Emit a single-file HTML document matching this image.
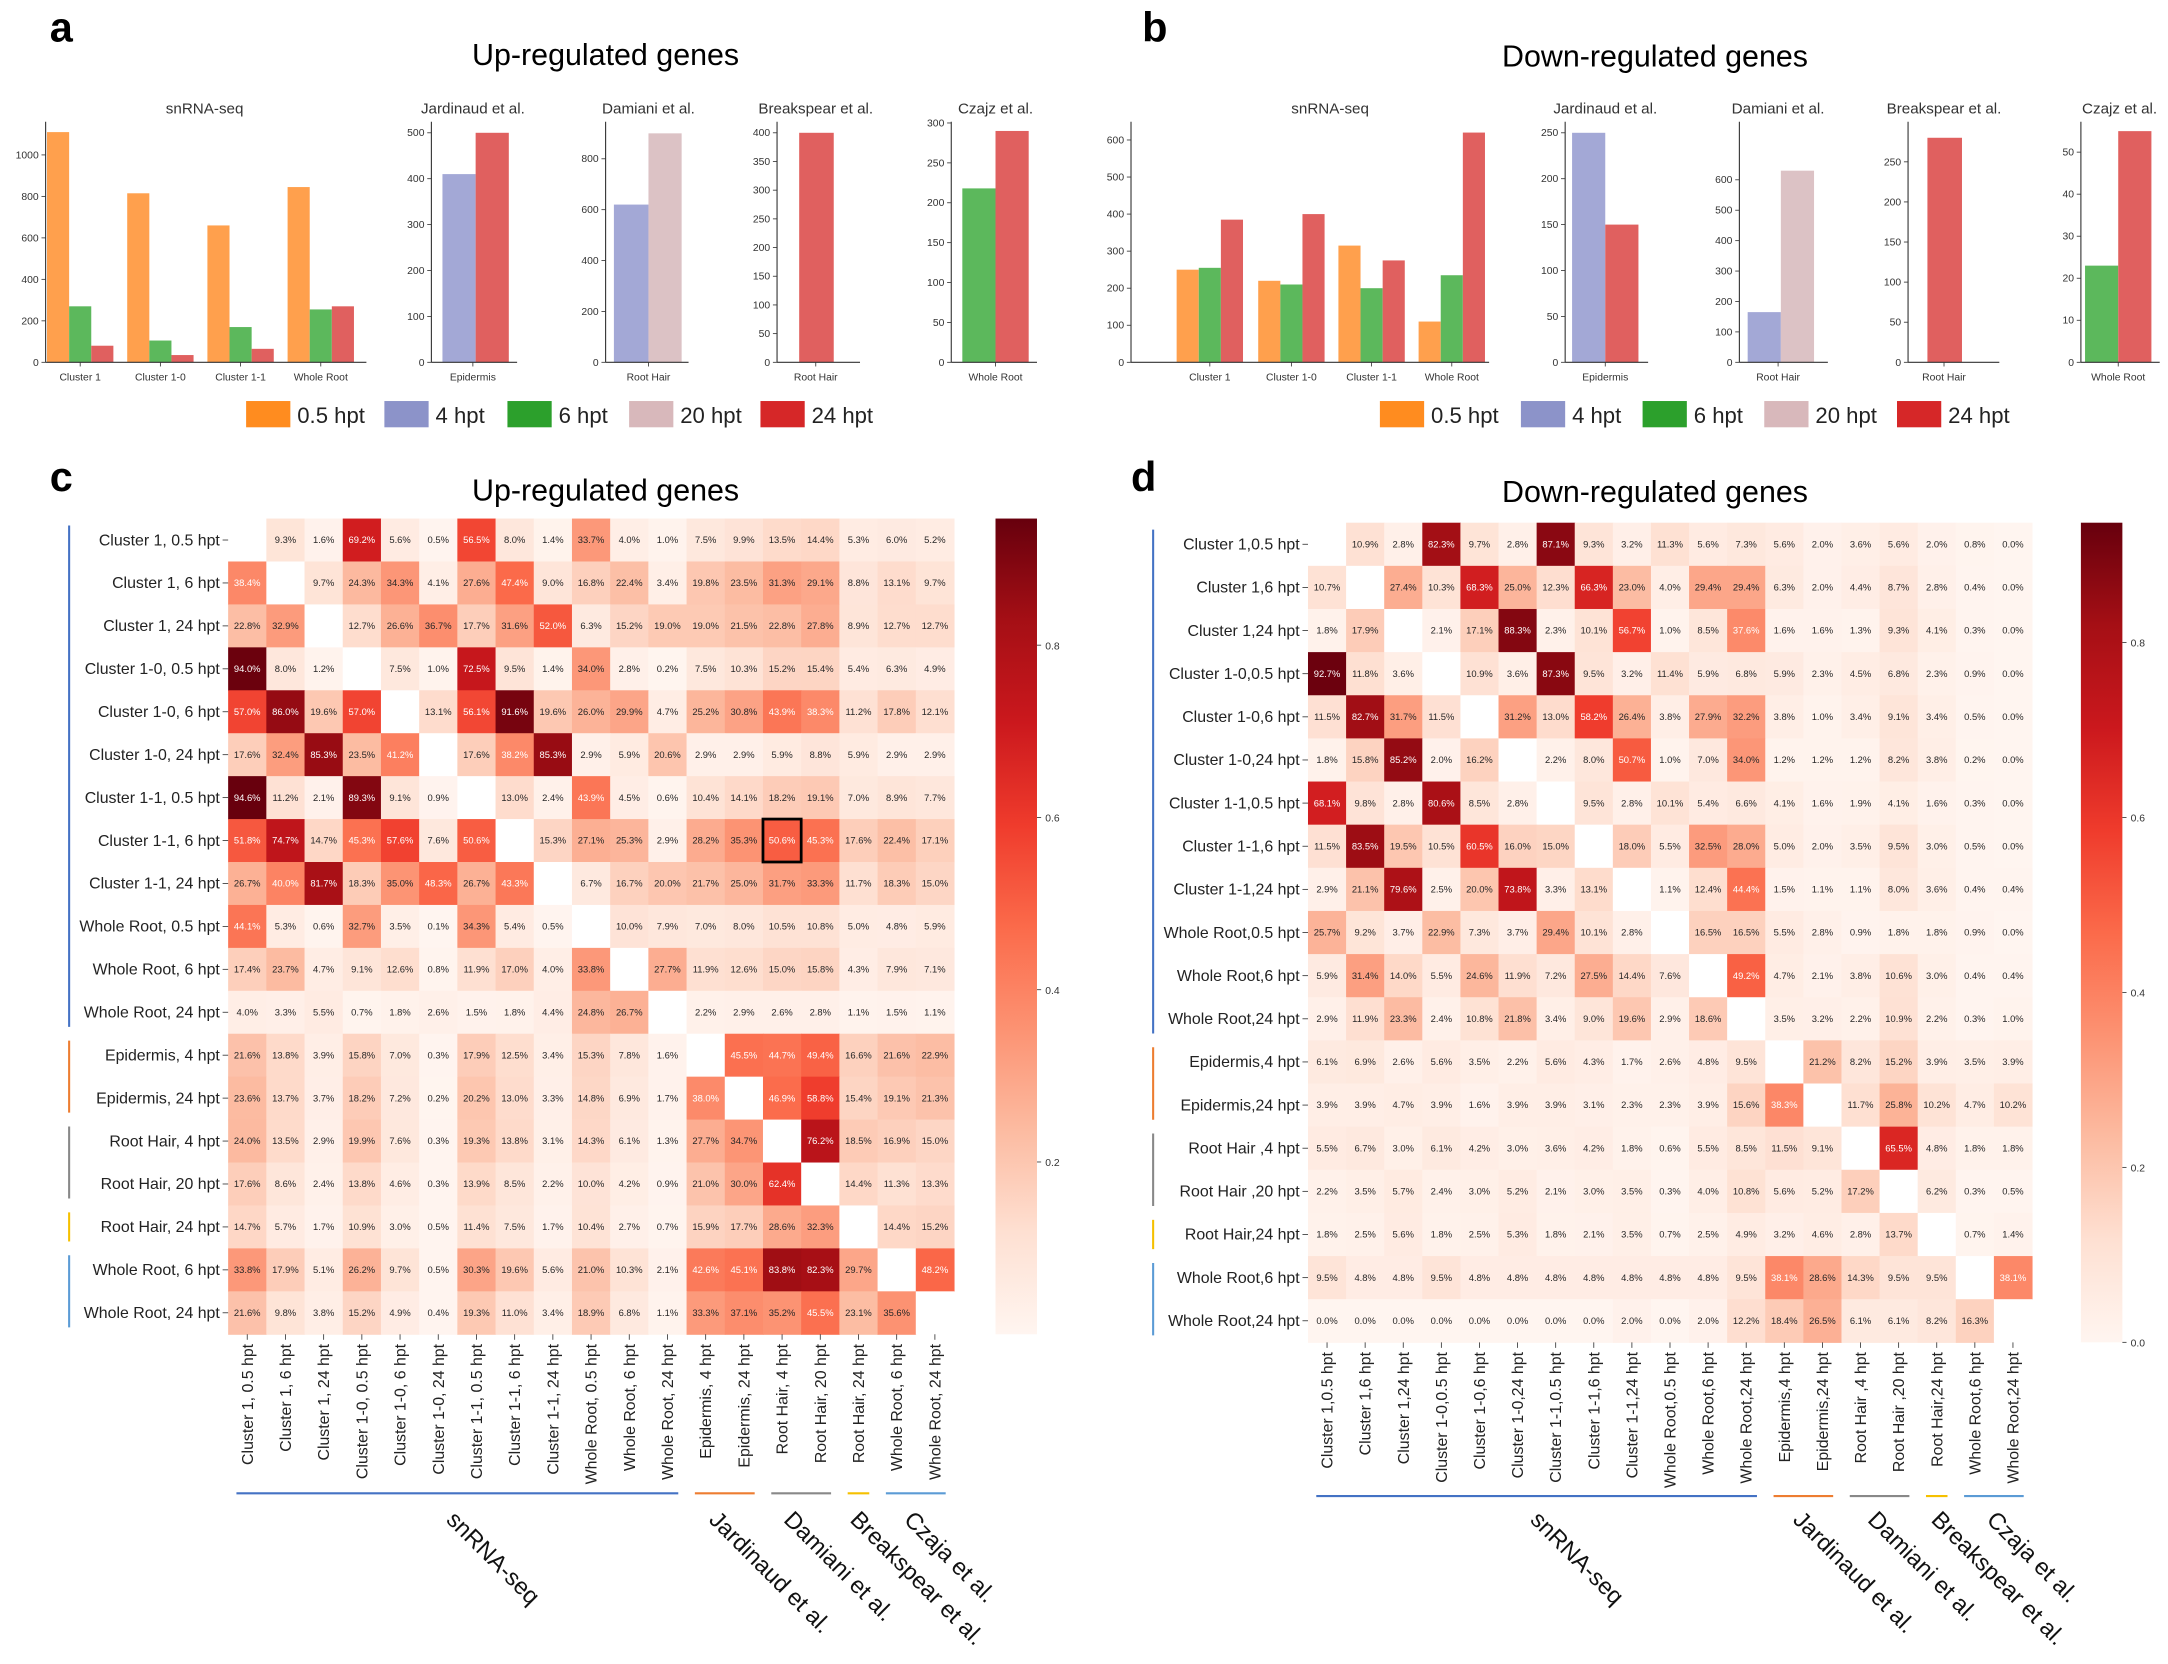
<!DOCTYPE html>
<html><head><meta charset="utf-8">
<style>
html,body{margin:0;padding:0;background:#fff;}
svg{display:block;font-family:"Liberation Sans",Arial,sans-serif;}
</style></head>
<body>
<svg id="s" xmlns="http://www.w3.org/2000/svg" width="2168" height="1664" viewBox="0 0 1568 1203.4">
<defs>
<linearGradient id="cb" x1="0" y1="1" x2="0" y2="0">
<stop offset="0" stop-color="#fff5f0"/><stop offset="0.125" stop-color="#fee0d2"/><stop offset="0.25" stop-color="#fcbba1"/><stop offset="0.375" stop-color="#fc9272"/><stop offset="0.5" stop-color="#fb6a4a"/><stop offset="0.625" stop-color="#ef3b2c"/><stop offset="0.75" stop-color="#cb181d"/><stop offset="0.875" stop-color="#a50f15"/><stop offset="1" stop-color="#67000d"/>
</linearGradient>
</defs>
<text x="36" y="30" font-size="30" font-weight="bold">a</text>
<text x="826" y="30" font-size="30" font-weight="bold">b</text>
<text x="36" y="355" font-size="30" font-weight="bold">c</text>
<text x="818" y="355" font-size="30" font-weight="bold">d</text>
<text x="438" y="47" font-size="22" text-anchor="middle">Up-regulated genes</text>
<text x="1197" y="48" font-size="22" text-anchor="middle">Down-regulated genes</text>
<text x="438" y="362" font-size="22" text-anchor="middle">Up-regulated genes</text>
<text x="1197" y="363" font-size="22" text-anchor="middle">Down-regulated genes</text>
<g id="root"></g>
</svg>
<pre id="hc" style="display:none">
- 9.3% 1.6% 69.2% 5.6% 0.5% 56.5% 8.0% 1.4% 33.7% 4.0% 1.0% 7.5% 9.9% 13.5% 14.4% 5.3% 6.0% 5.2%
38.4% - 9.7% 24.3% 34.3% 4.1% 27.6% 47.4% 9.0% 16.8% 22.4% 3.4% 19.8% 23.5% 31.3% 29.1% 8.8% 13.1% 9.7%
22.8% 32.9% - 12.7% 26.6% 36.7% 17.7% 31.6% 52.0% 6.3% 15.2% 19.0% 19.0% 21.5% 22.8% 27.8% 8.9% 12.7% 12.7%
94.0% 8.0% 1.2% - 7.5% 1.0% 72.5% 9.5% 1.4% 34.0% 2.8% 0.2% 7.5% 10.3% 15.2% 15.4% 5.4% 6.3% 4.9%
57.0% 86.0% 19.6% 57.0% - 13.1% 56.1% 91.6% 19.6% 26.0% 29.9% 4.7% 25.2% 30.8% 43.9% 38.3% 11.2% 17.8% 12.1%
17.6% 32.4% 85.3% 23.5% 41.2% - 17.6% 38.2% 85.3% 2.9% 5.9% 20.6% 2.9% 2.9% 5.9% 8.8% 5.9% 2.9% 2.9%
94.6% 11.2% 2.1% 89.3% 9.1% 0.9% - 13.0% 2.4% 43.9% 4.5% 0.6% 10.4% 14.1% 18.2% 19.1% 7.0% 8.9% 7.7%
51.8% 74.7% 14.7% 45.3% 57.6% 7.6% 50.6% - 15.3% 27.1% 25.3% 2.9% 28.2% 35.3% 50.6% 45.3% 17.6% 22.4% 17.1%
26.7% 40.0% 81.7% 18.3% 35.0% 48.3% 26.7% 43.3% - 6.7% 16.7% 20.0% 21.7% 25.0% 31.7% 33.3% 11.7% 18.3% 15.0%
44.1% 5.3% 0.6% 32.7% 3.5% 0.1% 34.3% 5.4% 0.5% - 10.0% 7.9% 7.0% 8.0% 10.5% 10.8% 5.0% 4.8% 5.9%
17.4% 23.7% 4.7% 9.1% 12.6% 0.8% 11.9% 17.0% 4.0% 33.8% - 27.7% 11.9% 12.6% 15.0% 15.8% 4.3% 7.9% 7.1%
4.0% 3.3% 5.5% 0.7% 1.8% 2.6% 1.5% 1.8% 4.4% 24.8% 26.7% - 2.2% 2.9% 2.6% 2.8% 1.1% 1.5% 1.1%
21.6% 13.8% 3.9% 15.8% 7.0% 0.3% 17.9% 12.5% 3.4% 15.3% 7.8% 1.6% - 45.5% 44.7% 49.4% 16.6% 21.6% 22.9%
23.6% 13.7% 3.7% 18.2% 7.2% 0.2% 20.2% 13.0% 3.3% 14.8% 6.9% 1.7% 38.0% - 46.9% 58.8% 15.4% 19.1% 21.3%
24.0% 13.5% 2.9% 19.9% 7.6% 0.3% 19.3% 13.8% 3.1% 14.3% 6.1% 1.3% 27.7% 34.7% - 76.2% 18.5% 16.9% 15.0%
17.6% 8.6% 2.4% 13.8% 4.6% 0.3% 13.9% 8.5% 2.2% 10.0% 4.2% 0.9% 21.0% 30.0% 62.4% - 14.4% 11.3% 13.3%
14.7% 5.7% 1.7% 10.9% 3.0% 0.5% 11.4% 7.5% 1.7% 10.4% 2.7% 0.7% 15.9% 17.7% 28.6% 32.3% - 14.4% 15.2%
33.8% 17.9% 5.1% 26.2% 9.7% 0.5% 30.3% 19.6% 5.6% 21.0% 10.3% 2.1% 42.6% 45.1% 83.8% 82.3% 29.7% - 48.2%
21.6% 9.8% 3.8% 15.2% 4.9% 0.4% 19.3% 11.0% 3.4% 18.9% 6.8% 1.1% 33.3% 37.1% 35.2% 45.5% 23.1% 35.6% -
</pre>
<pre id="hd" style="display:none">
- 10.9% 2.8% 82.3% 9.7% 2.8% 87.1% 9.3% 3.2% 11.3% 5.6% 7.3% 5.6% 2.0% 3.6% 5.6% 2.0% 0.8% 0.0%
10.7% - 27.4% 10.3% 68.3% 25.0% 12.3% 66.3% 23.0% 4.0% 29.4% 29.4% 6.3% 2.0% 4.4% 8.7% 2.8% 0.4% 0.0%
1.8% 17.9% - 2.1% 17.1% 88.3% 2.3% 10.1% 56.7% 1.0% 8.5% 37.6% 1.6% 1.6% 1.3% 9.3% 4.1% 0.3% 0.0%
92.7% 11.8% 3.6% - 10.9% 3.6% 87.3% 9.5% 3.2% 11.4% 5.9% 6.8% 5.9% 2.3% 4.5% 6.8% 2.3% 0.9% 0.0%
11.5% 82.7% 31.7% 11.5% - 31.2% 13.0% 58.2% 26.4% 3.8% 27.9% 32.2% 3.8% 1.0% 3.4% 9.1% 3.4% 0.5% 0.0%
1.8% 15.8% 85.2% 2.0% 16.2% - 2.2% 8.0% 50.7% 1.0% 7.0% 34.0% 1.2% 1.2% 1.2% 8.2% 3.8% 0.2% 0.0%
68.1% 9.8% 2.8% 80.6% 8.5% 2.8% - 9.5% 2.8% 10.1% 5.4% 6.6% 4.1% 1.6% 1.9% 4.1% 1.6% 0.3% 0.0%
11.5% 83.5% 19.5% 10.5% 60.5% 16.0% 15.0% - 18.0% 5.5% 32.5% 28.0% 5.0% 2.0% 3.5% 9.5% 3.0% 0.5% 0.0%
2.9% 21.1% 79.6% 2.5% 20.0% 73.8% 3.3% 13.1% - 1.1% 12.4% 44.4% 1.5% 1.1% 1.1% 8.0% 3.6% 0.4% 0.4%
25.7% 9.2% 3.7% 22.9% 7.3% 3.7% 29.4% 10.1% 2.8% - 16.5% 16.5% 5.5% 2.8% 0.9% 1.8% 1.8% 0.9% 0.0%
5.9% 31.4% 14.0% 5.5% 24.6% 11.9% 7.2% 27.5% 14.4% 7.6% - 49.2% 4.7% 2.1% 3.8% 10.6% 3.0% 0.4% 0.4%
2.9% 11.9% 23.3% 2.4% 10.8% 21.8% 3.4% 9.0% 19.6% 2.9% 18.6% - 3.5% 3.2% 2.2% 10.9% 2.2% 0.3% 1.0%
6.1% 6.9% 2.6% 5.6% 3.5% 2.2% 5.6% 4.3% 1.7% 2.6% 4.8% 9.5% - 21.2% 8.2% 15.2% 3.9% 3.5% 3.9%
3.9% 3.9% 4.7% 3.9% 1.6% 3.9% 3.9% 3.1% 2.3% 2.3% 3.9% 15.6% 38.3% - 11.7% 25.8% 10.2% 4.7% 10.2%
5.5% 6.7% 3.0% 6.1% 4.2% 3.0% 3.6% 4.2% 1.8% 0.6% 5.5% 8.5% 11.5% 9.1% - 65.5% 4.8% 1.8% 1.8%
2.2% 3.5% 5.7% 2.4% 3.0% 5.2% 2.1% 3.0% 3.5% 0.3% 4.0% 10.8% 5.6% 5.2% 17.2% - 6.2% 0.3% 0.5%
1.8% 2.5% 5.6% 1.8% 2.5% 5.3% 1.8% 2.1% 3.5% 0.7% 2.5% 4.9% 3.2% 4.6% 2.8% 13.7% - 0.7% 1.4%
9.5% 4.8% 4.8% 9.5% 4.8% 4.8% 4.8% 4.8% 4.8% 4.8% 4.8% 9.5% 38.1% 28.6% 14.3% 9.5% 9.5% - 38.1%
0.0% 0.0% 0.0% 0.0% 0.0% 0.0% 0.0% 0.0% 2.0% 0.0% 2.0% 12.2% 18.4% 26.5% 6.1% 6.1% 8.2% 16.3% -
</pre>
<script>
var NS="http://www.w3.org/2000/svg",R=document.getElementById("root");
function el(t,a,txt,p){var e=document.createElementNS(NS,t);for(var k in a)e.setAttribute(k,a[k]);if(txt!=null)e.textContent=txt;(p||R).appendChild(e);return e;}
var stops=[[255,245,240],[254,224,210],[252,187,161],[252,146,114],[251,106,74],[239,59,44],[203,24,29],[165,15,21],[103,0,13]];
function cmap(t){t=Math.max(0,Math.min(1,t))*8;var i=Math.min(7,Math.floor(t)),f=t-i,a=stops[i],b=stops[i+1];return "rgb("+[0,1,2].map(function(j){return Math.round(a[j]+(b[j]-a[j])*f)}).join(",")+")";}
var OR="#ffa04d",BL="#a3a8d6",GR="#5cb85c",PK="#dcc2c5",RD="#e0605f";
function chart(x0,x1,k,ticks,bars,title,tx,xl){
 var y0=262;
 el("text",{x:tx,y:82,"font-size":11,"text-anchor":"middle",fill:"#333"},title);
 bars.forEach(function(b){el("rect",{x:b[0],y:y0-b[2]*k,width:b[1]-b[0],height:b[2]*k,fill:b[3]});});
 el("line",{x1:x0,y1:88,x2:x0,y2:y0,stroke:"#333","stroke-width":0.8});
 el("line",{x1:x0,y1:y0,x2:x1,y2:y0,stroke:"#333","stroke-width":0.8});
 ticks.forEach(function(t){var y=y0-t*k;el("line",{x1:x0-3,y1:y,x2:x0,y2:y,stroke:"#333","stroke-width":0.6});el("text",{x:x0-5,y:y+2.5,"font-size":7.5,"text-anchor":"end",fill:"#333"},String(t));});
 xl.forEach(function(l){el("line",{x1:l[0],y1:y0,x2:l[0],y2:y0+3,stroke:"#333","stroke-width":0.6});el("text",{x:l[0],y:y0+13,"font-size":7.5,"text-anchor":"middle",fill:"#333"},l[1]);});
}
function grp(c,w,vals){var n=vals.length,s=c-n*w/2;return vals.map(function(v,i){return [s+i*w,s+(i+1)*w,v[0],v[1]];});}
var b=[];[[58,1110,270,80],[116,815,105,35],[174,660,170,65],[232,845,255,270]].forEach(function(g){b=b.concat(grp(g[0],16,[[g[1],OR],[g[2],GR],[g[3],RD]]));});
chart(33,265,0.15,[0,200,400,600,800,1000],b,"snRNA-seq",148,[[58,"Cluster 1"],[116,"Cluster 1-0"],[174,"Cluster 1-1"],[232,"Whole Root"]]);
chart(312,374,0.332,[0,100,200,300,400,500],[[320,344,410,BL],[344,368,500,RD]],"Jardinaud et al.",342,[[342,"Epidermis"]]);
chart(438,498,0.184,[0,200,400,600,800],[[444,469,620,BL],[469,493,900,PK]],"Damiani et al.",469,[[469,"Root Hair"]]);
chart(562,622,0.415,[0,50,100,150,200,250,300,350,400],[[578,603,400,RD]],"Breakspear et al.",590,[[590,"Root Hair"]]);
chart(688,750,0.577,[0,50,100,150,200,250,300],[[696,720,218,GR],[720,744,290,RD]],"Czajz et al.",720,[[720,"Whole Root"]]);
b=[];[[875,250,255,385],[934,220,210,400],[992,315,200,275],[1050,110,235,620]].forEach(function(g){b=b.concat(grp(g[0],16,[[g[1],OR],[g[2],GR],[g[3],RD]]));});
chart(818,1077,0.268,[0,100,200,300,400,500,600],b,"snRNA-seq",962,[[875,"Cluster 1"],[934,"Cluster 1-0"],[992,"Cluster 1-1"],[1050,"Whole Root"]]);
chart(1132,1192,0.664,[0,50,100,150,200,250],[[1137,1161,250,BL],[1161,1185,150,RD]],"Jardinaud et al.",1161,[[1161,"Epidermis"]]);
chart(1258,1322,0.22,[0,100,200,300,400,500,600],[[1264,1288,165,BL],[1288,1312,630,PK]],"Damiani et al.",1286,[[1286,"Root Hair"]]);
chart(1380,1446,0.58,[0,50,100,150,200,250],[[1394,1419,280,RD]],"Breakspear et al.",1406,[[1406,"Root Hair"]]);
chart(1505,1562,3.04,[0,10,20,30,40,50],[[1508,1532,23,GR],[1532,1556,55,RD]],"Czajz et al.",1533,[[1532,"Whole Root"]]);
var LC=["#ff8c1f","#8c93c9","#2ca02c","#d8b8bb","#d62728"],LT=["0.5 hpt","4 hpt","6 hpt","20 hpt","24 hpt"];
[[178,278,367,455,550],[998,1100,1188,1276,1372]].forEach(function(xs){xs.forEach(function(x,i){el("rect",{x:x,y:290,width:32,height:19,fill:LC[i]});el("text",{x:x+37,y:306,"font-size":16,fill:"#222"},LT[i]);});});
function hm(id,x0,y0,cw,ch,vmax,rl,cbx,cbt,grpx,grpy,gl){
 var rows=document.getElementById(id).textContent.trim().split("\n").map(function(r){return r.trim().split(/\s+/);});
 var n=rows.length;
 rows.forEach(function(r,i){r.forEach(function(v,j){var x=x0+j*cw,y=y0+i*ch;
  if(v==="-"){el("rect",{x:x,y:y,width:cw+0.3,height:ch+0.3,fill:"#fff"});return;}
  var t=parseFloat(v)/100/vmax;
  el("rect",{x:x,y:y,width:cw+0.4,height:ch+0.4,fill:cmap(t)});
  el("text",{x:x+cw/2,y:y+ch/2+2.3,"font-size":6.8,"text-anchor":"middle",fill:t>0.4?"#fff":"#262626"},v);});});
 rl.forEach(function(l,i){var y=y0+(i+0.5)*ch;
  el("line",{x1:x0-4,y1:y,x2:x0,y2:y,stroke:"#333","stroke-width":0.6});
  el("text",{x:x0-6,y:y+3.8,"font-size":11.5,"text-anchor":"end",fill:"#222"},l);
  var x=x0+(i+0.5)*cw;
  el("line",{x1:x,y1:y0+n*ch,x2:x,y2:y0+n*ch+4,stroke:"#333","stroke-width":0.6});
  el("text",{x:0,y:0,"font-size":11.5,"text-anchor":"end",fill:"#222",transform:"translate("+(x+4)+","+(y0+n*ch+7)+") rotate(-90)"},l);});
 el("rect",{x:cbx,y:y0,width:30,height:n*ch,fill:"url(#cb)"});
 cbt.forEach(function(t){var y=y0+n*ch-t/vmax*n*ch;el("line",{x1:cbx+30,y1:y,x2:cbx+33,y2:y,stroke:"#333","stroke-width":0.6});el("text",{x:cbx+36,y:y+3,"font-size":7.5,fill:"#333"},t.toFixed(1));});
 var G=[[0,11,"#4472c4"],[12,13,"#ed7d31"],[14,15,"#888"],[16,16,"#f5c000"],[17,18,"#5b9bd5"]];
 G.forEach(function(g){
  el("line",{x1:grpx,y1:y0+g[0]*ch+5,x2:grpx,y2:y0+(g[1]+1)*ch-5,stroke:g[2],"stroke-width":1.5});
  el("line",{x1:x0+g[0]*cw+6,y1:grpy,x2:x0+(g[1]+1)*cw-6,y2:grpy,stroke:g[2],"stroke-width":1.5});});
 gl.forEach(function(g){el("text",{x:0,y:0,"font-size":17,fill:"#111",transform:"translate("+g[0]+",1100) rotate(45)"},g[1]);});
}
var RC=["Cluster 1, 0.5 hpt","Cluster 1, 6 hpt","Cluster 1, 24 hpt","Cluster 1-0, 0.5 hpt","Cluster 1-0, 6 hpt","Cluster 1-0, 24 hpt","Cluster 1-1, 0.5 hpt","Cluster 1-1, 6 hpt","Cluster 1-1, 24 hpt","Whole Root, 0.5 hpt","Whole Root, 6 hpt","Whole Root, 24 hpt","Epidermis, 4 hpt","Epidermis, 24 hpt","Root Hair, 4 hpt","Root Hair, 20 hpt","Root Hair, 24 hpt","Whole Root, 6 hpt","Whole Root, 24 hpt"];
var RD2=["Cluster 1,0.5 hpt","Cluster 1,6 hpt","Cluster 1,24 hpt","Cluster 1-0,0.5 hpt","Cluster 1-0,6 hpt","Cluster 1-0,24 hpt","Cluster 1-1,0.5 hpt","Cluster 1-1,6 hpt","Cluster 1-1,24 hpt","Whole Root,0.5 hpt","Whole Root,6 hpt","Whole Root,24 hpt","Epidermis,4 hpt","Epidermis,24 hpt","Root Hair ,4 hpt","Root Hair ,20 hpt","Root Hair,24 hpt","Whole Root,6 hpt","Whole Root,24 hpt"];
hm("hc",165,375,27.63,31.05,0.947,RC,720,[0.2,0.4,0.6,0.8],50,1080,[[322,"snRNA-seq"],[512,"Jardinaud et al."],[566,"Damiani et al."],[614,"Breakspear et al."],[653,"Czaja et al."]]);
hm("hd",946,378,27.56,31.2,0.937,RD2,1505,[0.0,0.2,0.4,0.6,0.8],834,1082,[[1106,"snRNA-seq"],[1296,"Jardinaud et al."],[1350,"Damiani et al."],[1396,"Breakspear et al."],[1436,"Czaja et al."]]);
el("rect",{x:165+14*27.63,y:375+7*31.05,width:27.63,height:31.05,fill:"none",stroke:"#000","stroke-width":2});
</script>
</body></html>
